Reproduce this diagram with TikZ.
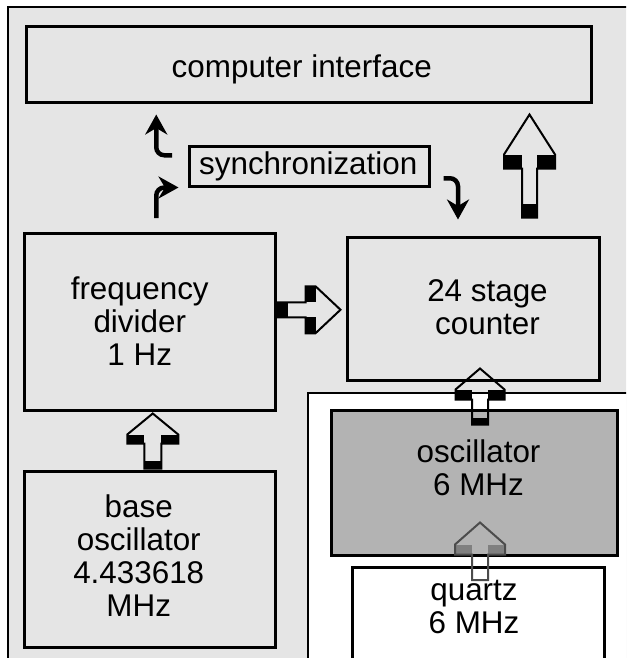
\documentclass[tikz,border=0pt]{standalone}
\usepackage{fontspec}
\setmainfont{Liberation Sans}
\usetikzlibrary{calc,arrows.meta}
\definecolor{panel}{RGB}{229,229,229}
\definecolor{oscgray}{RGB}{179,179,179}
% hollow block arrow: [outline:band](tail)(tip)(head:halfwidth:shaft:band:tailband)
\def\blockarrow[#1:#2](#3)(#4)(#5:#6:#7:#8:#9){%
  \path let \p1=(#3), \p2=(#4) in \pgfextra{%
    \pgfmathsetmacro\baang{atan2(\y2-\y1,\x2-\x1)}%
    \pgfmathsetmacro\balen{veclen(\x2-\x1,\y2-\y1)}%
    \global\let\baang\baang \global\let\balen\balen};
  \begin{scope}[shift={(#3)},rotate=\baang,x=1pt,y=1pt]
    \fill[#2] (\balen-#5-#8,#7) rectangle (\balen-#5,#6);
    \fill[#2] (\balen-#5-#8,-#7) rectangle (\balen-#5,-#6);
    \fill[#2] (0,-#7) rectangle (#9,#7);
    \draw[#1,line width=2pt,line join=miter] (\balen,0) -- (\balen-#5,#6) -- (\balen-#5-#8,#6)
      -- (\balen-#5-#8,#7) -- (0,#7) -- (0,-#7) -- (\balen-#5-#8,-#7) -- (\balen-#5-#8,-#6)
      -- (\balen-#5,-#6) -- cycle;
  \end{scope}}

\begin{document}
\begin{tikzpicture}[x=1pt,y=-1pt,
    box/.style={draw,line width=3pt,fill=panel,inner sep=0pt},
    txt/.style={inner sep=0pt,align=center,font=\fontsize{31.4}{33}\selectfont},
    bent/.style={line width=4.5pt,rounded corners=8pt,-{Stealth[length=20pt,width=22pt]}}]
  \useasboundingbox (0,0) rectangle (626,658);
  \clip (0,0) rectangle (626,658);

  % frame and white corner
  \draw[line width=2pt,fill=panel] (8,7) rectangle (660,700);
  \draw[line width=1.5pt,fill=white] (308,393) rectangle (660,700);

  % blocks
  \node[box,minimum width=565.5pt,minimum height=76pt] (iface) at (308.75,65) {};
  \node[box,minimum width=239.5pt,minimum height=40.5pt] (sync) at (309.25,166.25) {};
  \node[box,minimum width=251.5pt,minimum height=176.5pt] (divider) at (149.75,321.75) {};
  \node[box,minimum width=251.5pt,minimum height=176.5pt] (baseosc) at (149.75,559.25) {};
  \node[box,minimum width=252pt,minimum height=142.5pt] (counter) at (473.5,308.75) {};
  \node[box,fill=oscgray,minimum width=286pt,minimum height=145pt] (osc) at (474.5,482.5) {};
  \node[box,fill=white,minimum width=252pt,minimum height=190pt,anchor=north] (quartz) at (478.5,565.5) {};

  \node[txt] (iface-t) at ($(iface)+(-7,4)$) {computer interface};
  \node[txt] (sync-t) at ($(sync)+(-1,0.5)$) {synchronization};
  \node[txt] (divider-t) at ($(divider)+(-10,-1)$) {frequency\\divider\\1 Hz};
  \node[txt] (baseosc-t) at ($(baseosc)+(-11,-4)$) {base\\oscillator\\4.433618\\MHz};
  \node[txt] (counter-t) at ($(counter)+(14,-1.5)$) {24 stage\\counter};
  \node[txt] (osc-t) at ($(osc)+(4,-14.5)$) {oscillator\\6 MHz};
  \node[txt] (quartz-t) at ($(quartz.north)+(-4.5,41.5)$) {quartz\\6 MHz};

  % sync arrows
  \coordinate (a1) at ($(divider.north)+(6.5,-14)$);
  \coordinate (b1) at ($(sync.west)+(-16,-11)$);
  \coordinate (c1) at ($(sync.east)+(13,12)$);
  \draw[bent] (a1) |- ($(sync.south west)+(-9.5,-0.5)$);
  \draw[bent] (b1) -| ($(a1 |- iface.south)+(0,10)$);
  \draw[bent] (c1) -| ($(counter.north)+(-15.5,-16.5)$);

  % block arrows
  \coordinate (up1) at ($(counter.north)+(56,-18.5)$);
  \coordinate (up1h) at ($(up1 |- iface.south)+(0,10)$);
  \blockarrow[black:black](up1)(up1h)(40:25.5:7.5:14:14)
  \coordinate (up2) at ($(baseosc.north)+(3,-1)$);
  \coordinate (up2h) at ($(up2 |- divider.south)+(0,2)$);
  \blockarrow[black:black](up2)(up2h)(21:25.5:8.5:9:8)
  \coordinate (rt) at ($(divider.east)+(0.5,-12)$);
  \coordinate (rth) at ($(rt -| counter.west)+(-5.5,0)$);
  \blockarrow[black:black](rt)(rth)(25:23.5:7.5:10:10)
  \coordinate (up3) at ($(osc.north)+(5.5,16)$);
  \coordinate (up3h) at ($(up3 |- counter.south)+(0,-13)$);
  \blockarrow[black:black](up3)(up3h)(21:24.5:8:10:7)
  \coordinate (up4) at ($(quartz.north)+(1.5,14.5)$);
  \coordinate (up4h) at ($(up4 |- osc.south)+(0,-34)$);
  \blockarrow[black!70:black!50](up4)(up4h)(22:25:8:10:0)
\end{tikzpicture}
\end{document}
